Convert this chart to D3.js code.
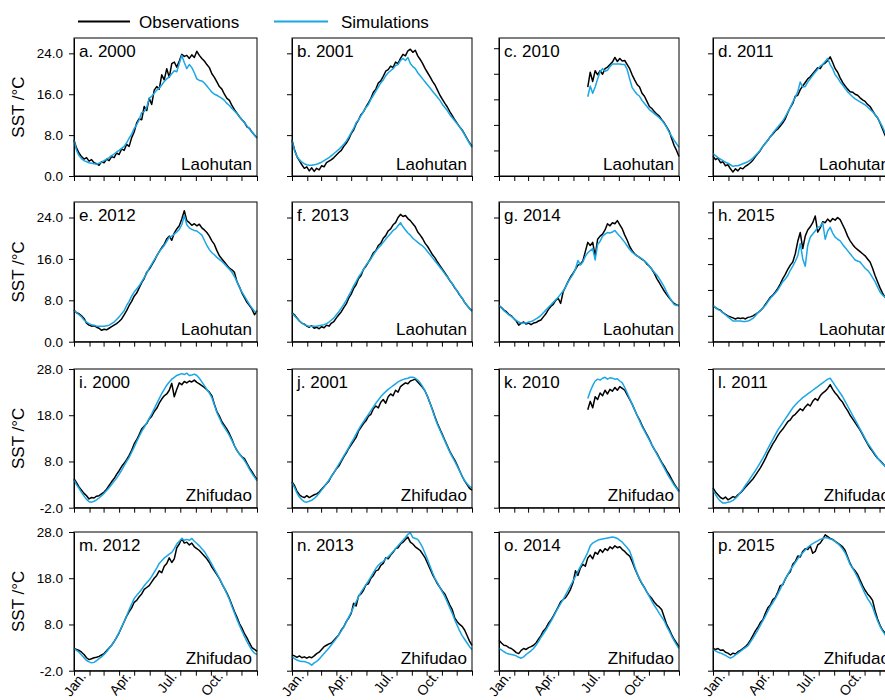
<!DOCTYPE html>
<html>
<head>
<meta charset="utf-8">
<script src="https://cdn.jsdelivr.net/npm/d3@7"></script>
<style>
  body { margin: 0; background: #fff; }
  svg { display: block; }
  text { font-family: "Liberation Sans", Arial, sans-serif; fill: #000; }
</style>
</head>
<body>
<svg id="chart" width="885" height="700"></svg>
<script>
// Daily SST, sampled every 5 days from each series' start day (°C)
const panelTitles = ["a. 2000", "b. 2001", "c. 2010", "d. 2011",
                     "e. 2012", "f. 2013", "g. 2014", "h. 2015",
                     "i. 2000", "j. 2001", "k. 2010", "l. 2011",
                     "m. 2012", "n. 2013", "o. 2014", "p. 2015"];
const stations = ["Laohutan", "Laohutan", "Laohutan", "Laohutan",
                  "Laohutan", "Laohutan", "Laohutan", "Laohutan",
                  "Zhifudao", "Zhifudao", "Zhifudao", "Zhifudao",
                  "Zhifudao", "Zhifudao", "Zhifudao", "Zhifudao"];
const startDays = [0, 0, 180, 0, 0, 0, 0, 0, 0, 0, 180, 0, 0, 0, 0, 0];
const sampleStep = 5;

const monthStarts = [0, 31, 59, 90, 120, 151, 181, 212, 243, 273, 304, 334, 365];
const monthLabels = ["Jan.", "Apr.", "Jul.", "Oct."];
const monthLabelIdx = [0, 3, 6, 9];

const yTicksLaohutan = [0, 8, 16, 24];
const yTicksFive = [0, 5, 10, 15, 20, 25];
const yTicksZhifudao = [-2, 8, 18, 28];
const yDomainLaohutan = [0, 27];
const yDomainZhifudao = [-2, 28];

const obsA = [7.0,5.5,4.5,3.8,3.3,3.6,2.9,3.2,2.6,2.4,2.1,2.8,2.6,3.3,3.0,3.8,3.6,4.5,4.2,5.3,
  5.0,6.2,5.8,7.5,8.6,10.4,11.2,11.0,13.6,12.8,15.2,14.0,16.8,17.5,17.0,19.8,18.8,21.0,19.3,22.0,
  22.3,21.3,22.5,23.8,23.4,23.6,23.0,23.7,23.2,24.4,23.6,23.0,22.5,21.8,21.2,20.0,19.3,18.4,17.5,17.0,
  16.0,15.2,14.8,13.8,13.0,12.3,11.6,11.0,10.5,9.6,9.3,8.6,8.0,7.5];
const simA = [7.0,5.0,4.0,3.4,3.0,2.8,2.6,2.5,2.4,2.3,2.5,2.7,3.0,3.3,3.6,4.0,4.3,4.7,5.0,5.4,
  5.8,6.5,7.4,8.2,9.3,10.0,11.0,12.4,12.6,13.4,15.2,15.6,16.2,16.8,17.2,17.8,18.5,19.0,19.4,20.0,
  20.6,20.4,22.0,23.6,22.2,21.0,21.8,21.2,20.2,19.0,18.7,18.6,18.2,17.6,17.0,16.4,16.0,15.8,15.5,15.2,
  14.8,14.2,13.8,13.2,12.7,12.2,11.6,11.0,10.4,9.8,9.2,8.6,8.0,7.4];

const obsB = [7.0,5.2,3.8,3.0,2.2,1.5,1.8,1.0,1.6,0.9,1.5,1.2,2.0,1.8,2.6,2.9,3.2,3.6,4.1,4.6,
  5.0,5.8,6.4,7.2,8.3,9.0,10.2,11.0,12.0,12.6,13.5,14.3,15.2,16.4,17.0,18.2,18.6,19.5,20.5,20.8,
  21.5,21.2,22.3,22.0,23.0,23.8,23.5,24.5,24.8,24.2,24.6,23.5,22.8,22.0,21.0,20.2,19.4,18.5,17.8,16.8,
  15.8,15.0,14.2,13.5,12.6,11.8,11.0,10.3,9.6,9.0,8.2,7.3,6.5,5.8];
const simB = [7.0,5.0,3.8,3.2,2.7,2.4,2.2,2.1,2.1,2.2,2.3,2.5,2.7,3.0,3.3,3.6,4.0,4.4,4.8,5.2,
  5.7,6.2,6.8,7.6,8.5,9.3,10.4,11.0,11.8,12.6,13.4,14.0,15.0,15.8,16.6,17.4,18.2,18.8,19.6,20.2,
  20.6,21.0,21.6,21.8,22.6,23.0,22.6,23.2,22.0,21.4,21.0,20.2,19.6,19.0,18.4,17.8,17.2,16.6,16.0,15.4,
  14.8,14.0,13.4,12.8,12.0,11.4,10.8,10.2,9.6,8.9,8.1,7.2,6.4,5.6];

const obsC = [17.4,20.3,18.5,20.6,19.8,20.6,19.9,21.0,21.3,21.8,22.3,23.2,22.4,23.0,22.5,22.6,21.8,21.0,19.8,18.8,
  17.9,17.4,16.2,15.6,14.6,13.6,13.2,12.6,12.1,11.7,11.0,10.4,9.6,8.8,7.4,6.0,5.0,3.8];
const simC = [15.5,17.6,16.2,17.4,19.0,20.4,21.0,20.5,20.7,21.4,21.9,21.9,21.9,21.9,21.8,21.8,20.8,19.0,17.3,16.6,
  16.0,15.6,14.8,14.2,13.6,13.0,12.6,12.2,11.8,11.4,10.9,10.3,9.5,8.6,7.8,7.0,6.3,5.6];

const obsD = [3.9,3.2,3.5,2.6,2.8,2.0,2.2,1.4,0.8,1.4,1.0,1.6,1.4,1.9,2.2,2.6,3.1,3.8,4.4,5.0,
  5.8,6.4,7.0,7.7,8.2,8.8,9.2,9.8,10.4,11.2,12.4,13.4,14.2,15.6,15.8,16.9,17.6,18.3,19.0,19.4,
  20.0,20.6,21.2,21.0,21.8,22.1,22.6,23.3,22.2,21.0,20.3,19.2,18.3,17.6,17.0,16.5,16.4,16.0,15.8,15.3,
  14.9,14.6,14.0,13.6,12.8,12.0,11.4,10.4,9.2,8.0,7.0,6.2,5.6,5.0];
const simD = [4.4,4.0,3.6,3.3,3.0,2.7,2.5,2.2,1.9,2.0,2.0,2.2,2.4,2.6,2.8,3.1,3.5,4.0,4.5,5.1,
  5.8,6.4,7.0,7.7,8.4,9.0,9.6,10.2,10.8,11.6,12.5,13.4,14.5,15.4,16.5,18.4,17.4,17.5,18.4,19.0,
  19.7,20.3,20.9,21.5,21.8,22.4,23.0,21.8,21.0,19.8,19.2,18.4,17.8,17.1,16.5,16.0,15.5,15.1,14.8,14.5,
  14.2,13.9,13.5,13.0,12.6,12.0,11.4,10.5,9.6,8.5,7.5,6.7,6.0,5.2];

const obsE = [6.1,5.6,5.4,5.0,4.5,3.6,3.2,3.0,3.1,2.8,2.6,2.2,2.4,2.3,2.6,2.9,3.2,3.5,3.9,4.4,
  5.2,6.0,7.0,7.8,8.8,9.4,10.4,11.4,12.2,13.4,14.0,14.8,15.6,16.6,17.4,18.2,18.8,19.9,20.4,19.6,
  21.0,21.8,22.4,23.7,25.3,23.4,23.0,22.5,22.8,22.4,22.7,22.0,21.6,21.1,20.4,19.5,18.8,17.6,16.6,16.0,
  15.4,14.8,14.2,13.9,13.4,11.6,10.6,9.4,8.5,7.6,7.0,6.3,5.2,6.0];
const simE = [6.0,5.6,5.2,4.8,4.2,3.8,3.5,3.3,3.2,3.0,3.0,3.0,3.0,3.1,3.2,3.5,3.8,4.3,4.8,5.4,
  6.0,7.0,7.8,8.8,9.6,10.2,10.8,11.6,12.4,13.2,14.2,15.0,15.8,16.6,17.4,18.0,18.6,19.4,20.2,20.4,
  20.8,21.2,21.7,22.6,24.4,22.6,22.0,21.7,21.5,21.4,21.0,20.6,19.6,18.6,17.8,17.2,16.8,16.3,15.9,15.5,
  15.0,14.5,14.0,13.4,12.6,11.6,10.5,9.6,8.8,8.0,7.2,6.5,5.9,5.7];

const obsF = [5.6,5.2,4.6,4.0,3.6,3.4,3.0,2.8,3.1,2.6,2.8,2.5,2.9,2.7,3.2,3.0,3.6,3.9,4.6,5.2,
  5.8,6.6,7.3,8.4,9.2,10.3,11.0,12.2,12.8,14.0,14.6,15.4,16.2,17.2,17.6,18.6,19.0,20.0,20.5,21.4,
  21.8,22.6,23.0,24.0,24.6,24.2,24.4,23.8,23.4,22.8,22.2,21.2,20.6,19.9,19.0,18.4,17.6,16.8,16.2,15.4,
  14.7,14.0,13.3,12.6,11.8,11.2,10.4,9.8,9.0,8.4,7.6,7.0,6.4,6.0];
const simF = [5.5,5.0,4.5,4.0,3.6,3.3,3.1,3.0,3.0,3.0,3.0,3.1,3.2,3.3,3.5,3.8,4.2,4.6,5.2,5.8,
  6.5,7.2,8.0,8.9,9.8,10.8,11.6,12.5,13.2,14.0,14.8,15.4,16.0,16.8,17.5,18.1,18.6,19.2,19.8,20.4,
  20.9,21.5,21.8,22.4,23.0,22.2,21.6,21.0,20.6,20.0,19.6,19.2,18.8,18.5,18.0,17.4,16.8,16.2,15.6,15.0,
  14.4,13.8,13.1,12.5,11.9,11.2,10.5,9.8,9.1,8.4,7.6,7.0,6.4,5.9];

const obsG = [7.0,6.6,6.1,5.8,5.3,5.0,4.5,4.0,3.2,3.6,3.8,3.4,3.6,3.3,3.6,3.7,4.0,4.2,4.8,5.4,
  6.2,6.8,7.2,8.0,8.4,7.4,9.6,10.6,11.6,12.5,13.2,14.0,14.8,15.0,15.6,17.4,19.2,18.6,19.2,16.6,
  19.8,20.4,20.8,21.6,22.8,22.4,23.0,22.8,23.4,22.6,21.8,20.6,19.6,18.4,17.6,17.0,16.6,16.3,15.9,15.6,
  15.0,14.6,14.0,13.2,12.2,11.4,10.6,9.8,9.1,8.5,7.9,7.4,7.1,7.0];
const simG = [7.0,6.5,6.0,5.6,5.2,4.9,4.5,4.1,3.8,3.6,3.6,3.6,3.8,3.9,4.1,4.4,4.7,5.1,5.6,6.1,
  6.6,7.1,7.6,8.1,8.6,9.2,9.8,10.6,11.5,12.3,13.0,14.0,15.7,14.8,15.4,16.5,17.2,17.6,18.0,15.8,
  18.8,19.4,20.4,20.8,21.1,21.0,21.2,21.5,20.9,20.4,19.8,19.2,18.5,17.8,17.3,16.9,16.6,16.3,16.0,15.6,
  15.2,14.6,14.0,13.4,12.9,12.2,11.4,10.6,9.6,8.7,7.9,7.2,7.0,7.0];

const obsH = [7.0,6.6,6.3,6.1,5.6,5.3,5.0,4.8,4.6,4.4,4.6,4.5,4.6,4.4,4.7,4.8,5.0,5.3,5.6,6.0,
  6.5,7.2,7.9,8.6,9.0,9.6,10.3,11.2,12.2,13.0,14.0,14.8,15.4,17.0,19.4,21.1,18.0,20.4,21.6,22.2,
  23.0,24.3,21.2,22.0,23.2,23.0,23.7,23.2,23.8,23.5,24.0,23.6,22.6,21.6,20.4,19.5,18.8,18.2,17.8,17.4,
  17.0,16.6,16.0,15.4,14.2,12.8,11.6,10.4,9.4,8.6,8.0,7.6,7.2,7.0];
const simH = [7.0,6.6,6.2,6.0,5.6,5.2,4.8,4.4,4.0,4.0,4.0,4.0,3.9,3.9,4.0,4.2,4.5,5.0,5.6,6.0,
  6.5,7.0,7.7,8.4,8.9,9.4,10.0,10.8,11.6,12.1,12.8,13.8,14.6,15.5,16.6,19.0,16.0,14.6,18.6,20.2,
  20.8,21.4,22.1,22.3,23.0,19.8,21.4,22.1,21.0,20.2,19.8,19.5,18.8,18.2,17.6,17.0,16.4,15.8,15.6,15.4,
  14.8,14.2,13.8,13.2,12.4,11.6,10.6,9.6,9.0,8.6,8.0,7.6,7.2,7.0];

const obsI = [4.3,3.4,2.5,1.8,1.1,0.6,-0.1,0.2,0.1,0.5,0.6,1.0,1.4,2.0,2.8,3.6,4.3,5.2,6.0,6.9,
  7.6,8.4,9.3,10.4,11.8,12.7,13.8,15.0,15.6,16.2,17.2,17.8,18.8,19.5,20.6,21.5,22.2,22.6,23.4,24.9,
  22.0,23.6,25.0,24.6,25.3,25.0,25.4,25.2,25.6,25.1,24.8,24.4,24.0,23.5,23.0,22.2,20.4,18.8,17.8,16.6,
  15.8,15.0,14.0,12.8,11.4,10.4,9.6,9.0,8.6,7.6,6.6,5.8,4.9,4.1];
const simI = [4.0,3.0,2.2,1.3,0.5,-0.2,-0.7,-0.8,-0.6,-0.3,0.1,0.6,1.1,1.7,2.3,3.0,3.7,4.4,5.2,6.1,
  7.1,8.0,8.9,10.0,11.1,12.3,13.4,14.5,15.4,16.3,17.3,18.3,19.4,20.5,21.6,22.7,23.6,24.5,25.2,25.8,
  26.2,26.6,26.8,27.0,26.8,27.1,26.6,26.7,26.9,26.6,26.0,25.2,24.4,23.6,22.8,21.8,20.2,18.6,17.4,16.2,
  15.4,14.5,13.6,12.5,11.4,10.4,9.6,8.9,8.2,7.3,6.3,5.4,4.6,3.8];

const obsJ = [3.6,2.8,1.6,0.8,0.4,0.2,0.6,0.2,0.5,0.8,1.0,1.4,2.0,2.6,3.2,3.8,4.8,5.6,6.4,7.0,
  8.0,9.0,9.8,10.8,11.6,12.4,13.2,14.6,15.4,16.2,16.8,17.8,18.2,19.4,20.0,19.6,20.8,21.4,20.6,22.0,
  22.6,22.2,23.4,23.0,24.2,24.6,25.0,24.8,25.4,25.6,25.8,25.2,24.6,24.0,23.2,22.0,20.6,19.2,17.6,16.2,
  15.0,13.8,12.6,11.4,10.2,9.2,8.3,7.2,6.0,4.8,3.8,3.0,2.2,1.8];
const simJ = [3.4,2.4,1.2,0.3,-0.3,-0.7,-0.8,-0.6,-0.4,0.0,0.5,1.1,1.8,2.5,3.2,4.0,4.8,5.6,6.5,7.4,
  8.3,9.2,10.1,11.0,12.0,12.9,13.9,14.9,15.8,16.6,17.4,18.2,19.0,19.8,20.6,21.3,22.0,22.6,23.1,23.6,
  24.0,24.4,24.8,25.2,25.5,25.7,25.9,26.0,26.2,26.2,26.0,25.6,25.0,24.2,23.2,22.0,20.6,19.0,17.4,16.0,
  14.8,13.6,12.4,11.2,10.0,9.0,8.0,7.0,5.9,4.8,3.9,3.2,2.6,2.3];

const obsK = [19.2,21.0,19.6,22.0,21.4,22.8,22.2,23.4,22.6,23.6,23.2,24.0,23.4,24.2,23.8,23.4,22.4,21.4,20.4,19.2,
  18.0,17.0,15.8,14.8,13.8,12.8,11.6,10.6,9.8,8.8,7.8,7.0,6.0,5.2,4.2,3.2,2.4,1.6];
const simK = [21.6,23.2,24.4,25.4,25.8,25.6,26.0,26.2,25.8,26.1,26.0,25.8,25.9,25.4,25.0,24.0,22.8,21.6,20.4,19.2,
  18.0,16.8,15.6,14.6,13.6,12.6,11.6,10.6,9.6,8.6,7.6,6.6,5.6,4.6,3.8,2.9,2.2,1.4];

const obsL = [2.3,1.4,0.8,0.2,-0.1,0.3,-0.3,0.0,0.4,0.2,0.8,1.2,1.8,2.4,3.0,3.6,4.2,5.0,5.8,6.6,
  7.6,8.6,9.8,10.8,11.8,12.6,13.6,14.4,15.0,15.8,16.6,17.0,17.8,18.2,18.8,19.4,19.0,19.8,20.4,20.0,
  21.0,21.6,21.2,22.2,22.8,23.2,23.8,24.6,23.6,22.8,22.2,21.4,20.8,19.8,19.0,18.0,17.2,16.4,15.6,14.8,
  13.8,12.8,11.8,10.9,10.2,9.4,8.7,8.2,7.6,7.0,6.2,5.4,4.6,3.8];
const simL = [1.8,0.8,0.0,-0.6,-1.0,-1.0,-0.8,-0.7,-0.4,0.0,0.6,1.3,2.0,2.8,3.6,4.4,5.2,6.0,6.9,7.8,
  8.7,9.7,10.8,11.8,12.8,13.8,14.8,15.6,16.4,17.2,18.0,18.8,19.6,20.2,20.8,21.3,21.8,22.2,22.6,23.0,
  23.4,23.8,24.2,24.6,25.0,25.4,25.8,26.0,25.2,24.4,23.6,22.8,22.0,21.0,20.0,19.0,18.0,17.0,16.0,15.0,
  14.0,13.0,12.0,11.2,10.4,9.6,8.8,8.1,7.5,7.0,6.2,5.4,4.6,3.8];

const obsM = [2.8,2.6,2.4,2.0,1.5,0.8,0.4,0.6,0.8,0.9,1.1,1.4,1.7,2.3,2.9,3.5,4.3,5.2,6.2,7.4,
  8.6,9.8,10.8,11.6,12.8,13.2,14.0,14.6,15.6,16.0,16.4,17.2,18.0,18.6,19.6,19.2,20.6,21.2,22.4,21.4,
  22.2,24.6,25.4,26.6,25.6,25.8,25.2,25.6,24.8,24.4,24.0,23.4,22.8,22.2,21.4,20.4,19.6,18.8,17.9,16.8,
  15.8,14.8,13.6,12.2,10.8,9.6,8.2,7.2,6.0,5.1,4.0,3.0,2.6,2.2];
const simM = [2.8,2.4,2.0,1.4,0.8,0.2,-0.1,-0.3,-0.2,0.2,0.6,1.0,1.5,2.1,2.8,3.5,4.3,5.2,6.3,7.5,
  8.6,9.9,11.2,12.4,13.6,14.3,14.9,15.6,16.4,17.0,17.6,18.4,19.3,20.2,21.2,21.8,22.4,22.8,23.2,23.6,
  24.4,25.4,26.0,26.6,26.2,26.4,26.2,26.6,26.0,25.5,25.0,24.4,23.8,22.9,22.0,21.0,20.0,19.0,18.0,16.9,
  15.8,14.6,13.4,11.9,10.5,9.1,7.8,6.6,5.4,4.3,3.3,2.4,1.8,1.5];

const obsN = [1.4,1.2,0.9,1.2,0.8,1.0,0.7,1.0,0.8,1.2,1.7,2.0,2.6,3.2,3.5,3.8,4.0,4.6,5.2,5.8,
  6.8,7.5,8.6,9.4,10.4,12.6,12.0,14.2,14.6,15.4,16.6,16.8,18.0,18.6,19.6,19.8,20.8,21.2,22.4,22.2,
  23.0,23.6,24.4,24.6,25.4,25.8,26.4,26.9,25.8,25.4,24.8,24.4,24.0,23.2,22.4,21.2,20.0,18.8,17.8,16.8,
  16.0,15.2,14.6,13.4,12.2,11.2,9.4,8.6,8.0,7.6,6.8,5.6,4.4,3.5];
const simN = [1.0,0.6,0.3,0.1,0.0,0.0,-0.2,-0.4,-0.8,-0.3,0.0,0.5,1.1,1.7,2.3,2.9,3.6,4.3,5.0,5.8,
  6.6,7.5,8.5,9.6,10.6,11.8,12.9,14.0,15.0,15.8,16.6,17.4,18.3,19.2,20.1,20.8,21.3,21.6,22.2,22.6,
  23.2,23.8,24.4,25.0,25.6,26.2,26.8,27.5,27.8,26.8,26.6,26.4,25.6,24.6,23.3,22.0,20.6,19.2,17.9,17.0,
  16.0,15.0,14.0,12.8,11.6,10.4,9.0,7.8,6.6,5.6,4.8,4.0,3.2,2.6];

const obsO = [4.6,4.0,3.5,3.4,3.0,2.8,2.4,1.9,1.7,2.4,2.8,2.6,3.0,3.2,3.5,4.0,4.8,5.6,6.6,7.2,
  8.2,8.9,9.8,10.8,11.8,12.9,13.4,13.8,14.6,15.6,17.0,19.6,18.6,20.2,21.0,20.6,22.4,23.0,22.2,23.6,
  23.2,24.2,23.6,24.4,24.0,24.8,24.4,25.0,24.6,24.8,24.2,23.8,23.2,22.8,21.6,20.2,19.0,17.8,16.8,16.0,
  15.0,14.2,13.6,12.8,12.2,11.8,11.2,9.6,8.0,7.0,5.8,4.8,4.0,3.2];
const simO = [2.8,2.5,2.1,1.8,1.6,1.5,1.4,1.2,0.9,0.7,1.0,1.5,1.9,2.3,2.8,3.5,4.3,5.2,6.0,6.8,
  7.7,8.6,9.6,10.6,11.6,12.5,13.4,14.4,15.4,16.4,17.4,18.4,19.5,20.5,21.5,22.5,23.6,25.0,25.6,25.9,
  26.2,26.4,26.5,26.6,26.7,26.8,26.9,26.8,26.6,26.2,25.8,25.2,24.6,23.9,22.4,20.6,19.0,17.9,16.9,15.9,
  15.0,14.0,13.0,12.1,11.3,10.4,9.6,8.8,7.6,6.6,5.5,4.5,3.6,2.8];

const obsP = [2.8,2.6,2.8,2.4,2.5,2.0,1.8,1.4,1.8,1.6,2.1,2.4,2.8,3.2,3.8,4.6,5.6,6.6,7.4,8.4,
  9.0,10.4,11.6,12.2,13.4,13.8,15.0,16.4,16.6,17.8,18.8,19.4,21.0,21.6,22.8,22.6,23.8,24.4,24.2,25.0,
  23.4,23.8,25.2,25.6,26.4,27.4,27.0,26.6,26.4,26.0,25.6,25.2,24.8,24.0,22.6,21.2,20.2,19.6,18.8,17.6,
  16.4,15.4,14.6,14.0,13.2,11.0,9.2,7.8,6.8,6.2,5.4,4.6,3.8,3.2];
const simP = [2.5,2.3,2.0,1.8,1.6,1.3,1.0,0.7,1.0,1.4,1.8,2.2,2.6,3.0,3.4,4.2,5.0,5.9,6.8,7.8,
  8.8,9.8,10.9,11.9,12.7,13.6,14.6,15.7,16.8,17.8,18.8,19.8,20.6,21.4,22.2,22.9,23.5,24.1,24.7,25.1,
  25.5,25.8,26.1,26.4,26.6,26.8,26.7,26.5,26.3,25.9,25.5,25.0,24.3,23.5,22.3,21.0,20.2,19.2,18.2,17.0,
  15.8,14.6,13.6,12.8,11.8,10.2,8.8,7.6,6.6,5.8,5.0,4.2,3.6,3.2];

const obsSeries = [obsA, obsB, obsC, obsD, obsE, obsF, obsG, obsH,
                   obsI, obsJ, obsK, obsL, obsM, obsN, obsO, obsP];
const simSeries = [simA, simB, simC, simD, simE, simF, simG, simH,
                   simI, simJ, simK, simL, simM, simN, simO, simP];

// ---- layout ----
const colLeft = [74, 292, 499, 713];
const colWidth = [183, 180, 180, 182];
const rowTop = [38, 202, 369, 532];
const rowBottom = [176, 341.7, 507.7, 670.7];
const obsColor = "#000000";
const simColor = "#1aa7e6";

const svg = d3.select("#chart");

// legend
const legend = svg.append("g");
const legendItems = [
  {name: "Observations", color: obsColor, x1: 78, x2: 130, tx: 139},
  {name: "Simulations", color: simColor, x1: 274, x2: 328, tx: 341}
];
legendItems.forEach(it => {
  legend.append("line").attr("x1", it.x1).attr("x2", it.x2)
    .attr("y1", 21.5).attr("y2", 21.5)
    .attr("stroke", it.color).attr("stroke-width", 2.2);
  legend.append("text").attr("x", it.tx).attr("y", 27.5)
    .attr("font-size", 17).text(it.name);
});

const fmt = d => d.toFixed(1);

panelTitles.forEach((title, i) => {
  const row = Math.floor(i / 4), col = i % 4;
  const x0 = colLeft[col], w = colWidth[col];
  const y0 = rowTop[row], y1 = rowBottom[row];
  const zhifu = row >= 2;

  const x = d3.scaleLinear().domain([0, 365]).range([x0, x0 + w]);
  const y = d3.scaleLinear().domain(zhifu ? yDomainZhifudao : yDomainLaohutan).range([y1, y0]);

  const g = svg.append("g");

  // y axis
  let ticks = zhifu ? yTicksZhifudao : yTicksLaohutan;
  if (i === 2 || i === 7) ticks = yTicksFive;
  const yAxis = d3.axisLeft(y).tickValues(ticks).tickSize(5).tickPadding(6).tickSizeOuter(0)
    .tickFormat(col === 0 ? fmt : "");
  const ya = g.append("g").attr("transform", `translate(${x0},0)`).call(yAxis);
  ya.selectAll("text").attr("font-size", 13.5).style("font-family", "Liberation Sans, Arial, sans-serif");

  // x axis (monthly ticks)
  const xAxis = d3.axisBottom(x).tickValues(monthStarts).tickSize(5).tickSizeOuter(0).tickFormat("");
  const xa = g.append("g").attr("transform", `translate(0,${y1})`).call(xAxis);
  [ya, xa].forEach(a => {
    a.select(".domain").attr("stroke", "#000");
    a.selectAll(".tick line").attr("stroke", "#000");
  });

  // month names under the bottom row
  if (row === 3) {
    monthLabelIdx.forEach((mi, k) => {
      const mid = (monthStarts[mi] + monthStarts[mi + 1]) / 2;
      g.append("text")
        .attr("transform", `translate(${x(mid) + 5},${y1 + 6}) rotate(-52)`)
        .attr("text-anchor", "end")
        .attr("font-size", 14)
        .text(monthLabels[k]);
    });
  }

  // series
  const start = startDays[i];
  const line = d3.line()
    .x((d, k) => x(Math.min(365, start + k * sampleStep)))
    .y(d => y(d));
  g.append("path").datum(obsSeries[i])
    .attr("fill", "none").attr("stroke", obsColor).attr("stroke-width", 1.5)
    .attr("stroke-linejoin", "round").attr("d", line);
  g.append("path").datum(simSeries[i])
    .attr("fill", "none").attr("stroke", simColor).attr("stroke-width", 1.5)
    .attr("stroke-linejoin", "round").attr("d", line);

  // frame
  g.append("rect").attr("x", x0).attr("y", y0).attr("width", w).attr("height", y1 - y0)
    .attr("fill", "none").attr("stroke", "#000").attr("stroke-width", 1);

  // panel title and station
  g.append("text").attr("x", x0 + 5).attr("y", y0 + 18.5).attr("font-size", 17).text(title);
  g.append("text").attr("x", x0 + w - 5).attr("y", y1 - 6.5).attr("text-anchor", "end")
    .attr("font-size", 17).text(stations[i]);
});

// row titles
for (let r = 0; r < 4; r++) {
  svg.append("text")
    .attr("transform", `translate(23.5,${(rowTop[r] + rowBottom[r]) / 2}) rotate(-90)`)
    .attr("text-anchor", "middle").attr("font-size", 17)
    .text("SST /°C");
}
</script>
</body>
</html>
